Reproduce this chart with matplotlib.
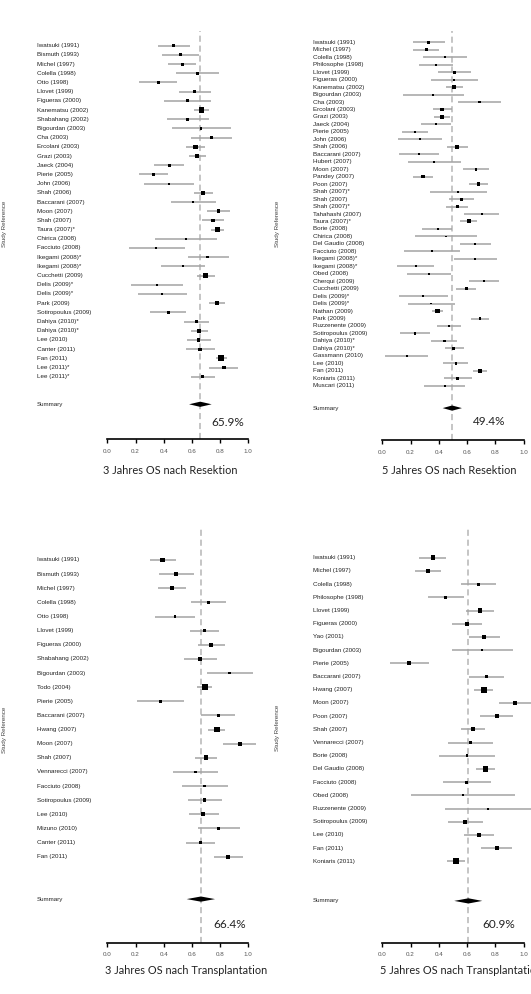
import matplotlib
matplotlib.use('Agg')
import matplotlib.pyplot as plt
import numpy as np

# ---------------- data ----------------
# panel 1: 3 Jahres OS nach Resektion
r3_study = ['Iwatsuki (1991)', 'Bismuth (1993)', 'Michel (1997)', 'Colella (1998)', 'Otto (1998)',
            'Llovet (1999)', 'Figueras (2000)', 'Kanematsu (2002)', 'Shabahang (2002)', 'Bigourdan (2003)',
            'Cha (2003)', 'Ercolani (2003)', 'Grazi (2003)', 'Jaeck (2004)', 'Pierie (2005)', 'John (2006)',
            'Shah (2006)', 'Baccarani (2007)', 'Moon (2007)', 'Shah (2007)', 'Taura (2007)*', 'Chirica (2008)',
            'Facciuto (2008)', 'Ikegami (2008)*', 'Ikegami (2008)*', 'Cucchetti (2009)', 'Delis (2009)*',
            'Delis (2009)*', 'Park (2009)', 'Sotiropoulus (2009)', 'Dahiya (2010)*', 'Dahiya (2010)*',
            'Lee (2010)', 'Canter (2011)', 'Fan (2011)', 'Lee (2011)*', 'Lee (2011)*']
r3_est = [0.468, 0.518, 0.53, 0.638, 0.36, 0.62, 0.567, 0.667, 0.567, 0.667, 0.738, 0.627, 0.636, 0.44,
          0.329, 0.438, 0.676, 0.608, 0.787, 0.75, 0.78, 0.56, 0.348, 0.712, 0.535, 0.695, 0.35, 0.39,
          0.778, 0.433, 0.634, 0.65, 0.648, 0.657, 0.809, 0.828, 0.674]
r3_lo = [0.357, 0.39, 0.433, 0.49, 0.227, 0.51, 0.402, 0.617, 0.421, 0.461, 0.594, 0.56, 0.58, 0.331,
         0.227, 0.258, 0.613, 0.45, 0.705, 0.672, 0.733, 0.34, 0.156, 0.575, 0.383, 0.634, 0.168, 0.22,
         0.724, 0.305, 0.546, 0.594, 0.563, 0.56, 0.771, 0.724, 0.591]
r3_hi = [0.584, 0.65, 0.627, 0.79, 0.496, 0.733, 0.735, 0.723, 0.719, 0.875, 0.882, 0.695, 0.70, 0.546,
         0.433, 0.617, 0.747, 0.771, 0.87, 0.828, 0.83, 0.778, 0.549, 0.861, 0.691, 0.764, 0.535, 0.563,
         0.837, 0.556, 0.723, 0.712, 0.733, 0.762, 0.847, 0.925, 0.764]
r3_w = [2.25, 2.25, 2.25, 1.6, 2.25, 2.7, 2.0, 7.6, 2.0, 1.2, 2.0, 5.1, 5.8, 2.25, 2.25, 1.2, 4.0, 1.3,
        3.1, 3.2, 7.6, 1.2, 1.2, 1.6, 1.2, 5.1, 1.2, 1.3, 5.1, 1.6, 2.25, 4.0, 2.7, 2.6, 9.0, 2.7, 3.1]
r3_pooled = [0.659, 0.58, 0.74]

# panel 2: 5 Jahres OS nach Resektion
r5_study = ['Iwatsuki (1991)', 'Michel (1997)', 'Colella (1998)', 'Philosophe (1998)', 'Llovet (1999)',
            'Figueras (2000)', 'Kanematsu (2002)', 'Bigourdan (2003)', 'Cha (2003)', 'Ercolani (2003)',
            'Grazi (2003)', 'Jaeck (2004)', 'Pierie (2005)', 'John (2006)', 'Shah (2006)', 'Baccarani (2007)',
            'Hubert (2007)', 'Moon (2007)', 'Pandey (2007)', 'Poon (2007)', 'Shah (2007)*', 'Shah (2007)',
            'Shah (2007)*', 'Tahahashi (2007)', 'Taura (2007)*', 'Borie (2008)', 'Chirica (2008)',
            'Del Gaudio (2008)', 'Facciuto (2008)', 'Ikegami (2008)*', 'Ikegami (2008)*', 'Obed (2008)',
            'Cherqui (2009)', 'Cucchetti (2009)', 'Delis (2009)*', 'Delis (2009)*', 'Nathan (2009)',
            'Park (2009)', 'Ruzzenente (2009)', 'Sotiropoulus (2009)', 'Dahiya (2010)*', 'Dahiya (2010)*',
            'Gassmann (2010)', 'Lee (2010)', 'Fan (2011)', 'Koniaris (2011)', 'Muscari (2011)']
r5_est = [0.330, 0.311, 0.441, 0.380, 0.509, 0.507, 0.509, 0.359, 0.689, 0.422, 0.422, 0.380, 0.231,
          0.264, 0.528, 0.262, 0.366, 0.663, 0.288, 0.679, 0.538, 0.561, 0.531, 0.703, 0.611, 0.392,
          0.450, 0.658, 0.349, 0.658, 0.236, 0.330, 0.719, 0.594, 0.288, 0.347, 0.392, 0.691, 0.472,
          0.231, 0.439, 0.507, 0.172, 0.521, 0.691, 0.531, 0.441]
r5_lo = [0.219, 0.219, 0.285, 0.262, 0.396, 0.342, 0.453, 0.149, 0.533, 0.361, 0.366, 0.276, 0.137,
         0.109, 0.458, 0.120, 0.184, 0.571, 0.219, 0.613, 0.340, 0.472, 0.453, 0.580, 0.552, 0.281,
         0.231, 0.550, 0.156, 0.509, 0.104, 0.172, 0.611, 0.523, 0.120, 0.184, 0.354, 0.627, 0.385,
         0.125, 0.347, 0.446, 0.019, 0.429, 0.644, 0.436, 0.297]
r5_hi = [0.441, 0.403, 0.597, 0.498, 0.625, 0.679, 0.571, 0.576, 0.842, 0.493, 0.479, 0.488, 0.323,
         0.424, 0.604, 0.403, 0.554, 0.757, 0.359, 0.745, 0.738, 0.651, 0.608, 0.827, 0.667, 0.493,
         0.670, 0.767, 0.547, 0.811, 0.368, 0.486, 0.827, 0.663, 0.462, 0.516, 0.427, 0.752, 0.559,
         0.339, 0.531, 0.576, 0.323, 0.608, 0.738, 0.636, 0.585]
r5_w = [2.25, 2.7, 1.0, 1.0, 1.8, 0.8, 3.4, 1.0, 1.8, 3.4, 4.0, 1.0, 1.8, 1.0, 3.4, 1.0, 0.8, 1.8, 2.7,
        2.7, 1.0, 2.25, 1.3, 1.3, 4.0, 1.3, 0.8, 1.3, 0.8, 1.3, 1.0, 0.8, 1.3, 2.7, 0.8, 0.8, 5.5, 1.8,
        1.8, 1.3, 1.3, 2.25, 1.0, 1.8, 4.6, 1.8, 1.0]
r5_pooled = [0.494, 0.427, 0.563]

# panel 3: 3 Jahres OS nach Transplantation
t3_study = ['Iwatsuki (1991)', 'Bismuth (1993)', 'Michel (1997)', 'Colella (1998)', 'Otto (1998)',
            'Llovet (1999)', 'Figueras (2000)', 'Shabahang (2002)', 'Bigourdan (2003)', 'Todo (2004)',
            'Pierie (2005)', 'Baccarani (2007)', 'Hwang (2007)', 'Moon (2007)', 'Shah (2007)',
            'Vennarecci (2007)', 'Facciuto (2008)', 'Sotiropoulus (2009)', 'Lee (2010)', 'Mizuno (2010)',
            'Canter (2011)', 'Fan (2011)']
t3_est = [0.393, 0.489, 0.461, 0.716, 0.48, 0.69, 0.738, 0.657, 0.868, 0.69, 0.379, 0.79, 0.778, 0.941,
          0.70, 0.627, 0.688, 0.69, 0.681, 0.79, 0.66, 0.858]
t3_lo = [0.30, 0.364, 0.357, 0.596, 0.34, 0.589, 0.645, 0.544, 0.707, 0.636, 0.21, 0.662, 0.716, 0.823,
         0.622, 0.468, 0.528, 0.574, 0.577, 0.641, 0.56, 0.759]
t3_hi = [0.485, 0.617, 0.56, 0.84, 0.62, 0.79, 0.837, 0.778, 1.03, 0.743, 0.546, 0.908, 0.837, 1.055,
         0.778, 0.787, 0.854, 0.811, 0.79, 0.943, 0.762, 0.96]
t3_w = [5.5, 3.4, 4.6, 2.7, 1.8, 3.4, 4.0, 3.4, 1.8, 9.0, 1.8, 2.7, 7.0, 3.4, 5.5, 1.8, 1.8, 3.4, 3.4,
        1.8, 3.4, 4.0]
t3_pooled = [0.664, 0.563, 0.764]

# panel 4: 5 Jahres OS nach Transplantation
t5_study = ['Iwatsuki (1991)', 'Michel (1997)', 'Colella (1998)', 'Philosophe (1998)', 'Llovet (1999)',
            'Figueras (2000)', 'Yao (2001)', 'Bigourdan (2003)', 'Pierie (2005)', 'Baccarani (2007)',
            'Hwang (2007)', 'Moon (2007)', 'Poon (2007)', 'Shah (2007)', 'Vennarecci (2007)', 'Borie (2008)',
            'Del Gaudio (2008)', 'Facciuto (2008)', 'Obed (2008)', 'Ruzzenente (2009)', 'Sotiropoulus (2009)',
            'Lee (2010)', 'Fan (2011)', 'Koniaris (2011)']
t5_est = [0.359, 0.321, 0.679, 0.448, 0.691, 0.599, 0.721, 0.707, 0.191, 0.738, 0.717, 0.938, 0.809,
          0.641, 0.625, 0.599, 0.729, 0.599, 0.571, 0.75, 0.587, 0.681, 0.809, 0.521]
t5_lo = [0.262, 0.229, 0.554, 0.323, 0.59, 0.495, 0.611, 0.491, 0.057, 0.615, 0.651, 0.828, 0.693,
         0.559, 0.467, 0.401, 0.66, 0.427, 0.201, 0.446, 0.465, 0.58, 0.698, 0.458]
t5_hi = [0.448, 0.417, 0.802, 0.576, 0.79, 0.707, 0.83, 0.927, 0.328, 0.863, 0.785, 1.05, 0.927,
         0.724, 0.785, 0.797, 0.80, 0.769, 0.941, 1.05, 0.71, 0.792, 0.917, 0.583]
t5_w = [5.5, 4.6, 2.25, 2.25, 4.6, 4.0, 4.0, 1.3, 4.0, 3.4, 8.0, 4.6, 3.4, 4.6, 2.25, 1.8, 7.0, 2.25,
        1.0, 1.0, 3.4, 4.0, 3.4, 9.0]
t5_pooled = [0.609, 0.509, 0.707]

titles = ['3 Jahres OS nach Resektion', '5 Jahres OS nach Resektion',
          '3 Jahres OS nach Transplantation', '5 Jahres OS nach Transplantation']

# ---------------- layout (pixels inside each panel box) ----------------
W, H = 531, 994
boxes = [(0, 0, 265, 497), (265, 0, 266, 497), (0, 497, 265, 497), (265, 497, 266, 497)]
layouts = [
    dict(x0=107.3, x1=248.3, y0=45.7, y1=376.7, axis=439, top=31, lab=37, ylab=(5, 224),
         title=(103, 470), pct=(0.856, 422)),
    dict(x0=117.3, x1=258.7, y0=42.3, y1=385.7, axis=440, top=31, lab=47.7, ylab=(12.5, 224),
         title=(116.7, 470), pct=(0.758, 421.7)),
    dict(x0=107.3, x1=248.3, y0=63, y1=359.7, axis=445.7, top=31, lab=36.7, ylab=(5, 233),
         title=(105.3, 473), pct=(0.87, 428)),
    dict(x0=117.3, x1=258.7, y0=60.7, y1=364.3, axis=445.7, top=31, lab=47.7, ylab=(12.5, 231),
         title=(115, 473), pct=(0.822, 428)),
]

fig = plt.figure(figsize=(W / 100, H / 100), dpi=100)
lab_font = 'Liberation Sans'
big_font = 'Lato'


def forest(box, lay, study, est, lo, hi, w, pooled, title):
    bx, by, bw, bh = box
    ax = fig.add_axes([bx / W, 1 - (by + bh) / H, bw / W, bh / H])
    ax.patch.set_visible(False)
    n = len(study)
    s = (lay['y1'] - lay['y0']) / (n - 1)

    def xv(px):
        return (px - lay['x0']) / (lay['x1'] - lay['x0'])

    def yv(py):
        return n - (py - lay['y0']) / s

    ax.set_xlim(xv(0), xv(bw))
    ax.set_ylim(yv(bh), yv(0))
    rows = np.arange(n, 0, -1)
    y_sum = -2
    y_axis = yv(lay['axis'])

    # pooled reference line
    ax.vlines(pooled[0], y_axis, yv(lay['top']), colors='#b5b5b5', linestyles=(0, (4, 2.5)), lw=1.1)
    # study CIs and weighted squares
    ax.hlines(rows, lo, hi, colors='#a3a3a3', lw=1.1, clip_on=False, zorder=2)
    side = 2.0 * np.sqrt(np.array(w)) * 0.72
    ax.scatter(est, rows, s=side ** 2, marker='s', c='black', linewidths=0, zorder=3)
    # summary diamond
    h = 2.6 / s
    ax.fill([pooled[1], pooled[0], pooled[2], pooled[0]],
            [y_sum, y_sum + h, y_sum, y_sum - h], color='black', lw=0, zorder=3)

    for name, r in zip(study, rows):
        ax.text(xv(lay['lab']), r, name, ha='left', va='center', fontsize=4.5,
                family=lab_font, color='#222222')
    ax.text(xv(lay['lab']), y_sum, 'Summary', ha='left', va='center', fontsize=4.5,
            family=lab_font, color='#222222')
    ax.text(xv(lay['ylab'][0]), yv(lay['ylab'][1]), 'Study Reference', rotation=90,
            ha='center', va='center', fontsize=4.5, family=lab_font, color='#444444')

    # axis
    for sp in ['left', 'top', 'right']:
        ax.spines[sp].set_visible(False)
    ax.spines['bottom'].set_position(('data', y_axis))
    ax.spines['bottom'].set_bounds(0, 1)
    ax.spines['bottom'].set_linewidth(1.2)
    ticks = np.round(np.arange(0, 1.01, 0.2), 1)
    ax.set_xticks(ticks)
    ax.set_xticklabels([f'{t:.1f}' for t in ticks])
    ax.tick_params(axis='x', direction='out', length=3, width=1, pad=4, labelsize=4.5,
                   labelcolor='#555555')
    for lbl in ax.get_xticklabels():
        lbl.set_family(lab_font)
    ax.set_yticks([])

    ax.text(lay['pct'][0], yv(lay['pct'][1]), f'{pooled[0] * 100:.1f}%',
            ha='center', va='center', fontsize=8.5, family=big_font, color='#222222')
    ax.text(xv(lay['title'][0]), yv(lay['title'][1]), title, ha='left', va='center',
            fontsize=7.9, family=big_font, color='#222222', clip_on=False)


forest(boxes[0], layouts[0], r3_study, r3_est, r3_lo, r3_hi, r3_w, r3_pooled, titles[0])
forest(boxes[1], layouts[1], r5_study, r5_est, r5_lo, r5_hi, r5_w, r5_pooled, titles[1])
forest(boxes[2], layouts[2], t3_study, t3_est, t3_lo, t3_hi, t3_w, t3_pooled, titles[2])
forest(boxes[3], layouts[3], t5_study, t5_est, t5_lo, t5_hi, t5_w, t5_pooled, titles[3])

fig.savefig('out.png', dpi=100, facecolor='white')
